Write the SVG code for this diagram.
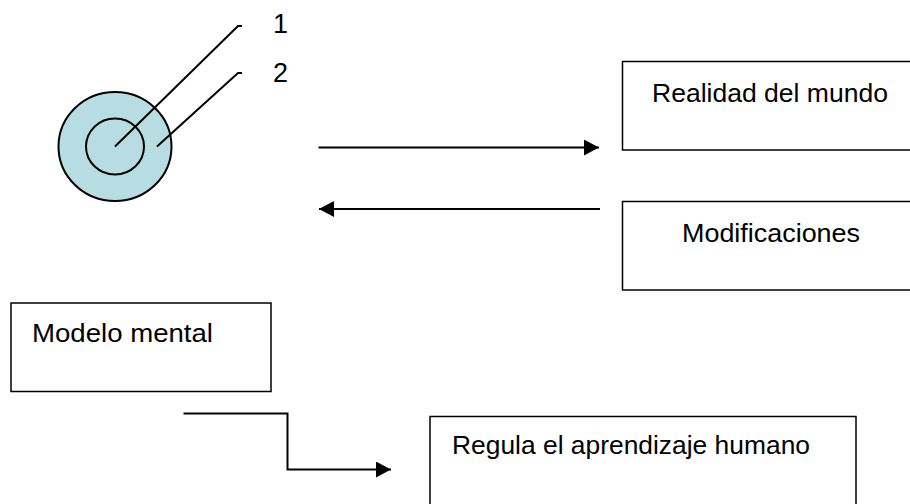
<svg xmlns="http://www.w3.org/2000/svg" width="910" height="504" viewBox="0 0 910 504">
  <style>
    .box { fill: #ffffff; stroke: #000000; stroke-width: 1.5; }
    .lbl { font-family: "Liberation Sans", Arial, sans-serif; font-size: 26px; fill: #000000; }
    .num { font-family: "Liberation Sans", Arial, sans-serif; font-size: 27px; fill: #000000; }
    .conn { fill: none; stroke: #000000; stroke-width: 2; }
    .ring { fill: #B7DDE2; stroke: #000000; stroke-width: 2; }
    .core { fill: none; stroke: #000000; stroke-width: 2; }
  </style>
  <defs>
    <marker id="arrow" viewBox="0 0 15 16" refX="15" refY="8" markerWidth="15" markerHeight="16" markerUnits="userSpaceOnUse" orient="auto">
      <path d="M0,0 L15,8 L0,16 z" fill="#000000"/>
    </marker>
  </defs>

  <g id="node-circle">
    <ellipse class="ring" cx="115" cy="146.5" rx="56.5" ry="54.5"/>
    <ellipse class="core" cx="115" cy="146.5" rx="29" ry="28"/>
  </g>

  <g id="node-label-1">
    <text class="num" x="273" y="33">1</text>
  </g>
  <g id="node-label-2">
    <text class="num" x="273" y="82">2</text>
  </g>

  <g id="node-realidad">
    <rect class="box" x="622.5" y="61.5" width="300" height="88.5"/>
    <text class="lbl" x="652" y="101.5" textLength="236" lengthAdjust="spacingAndGlyphs">Realidad del mundo</text>
  </g>

  <g id="node-modificaciones">
    <rect class="box" x="622.5" y="201.5" width="300" height="88.5"/>
    <text class="lbl" x="682" y="241.5" textLength="178" lengthAdjust="spacingAndGlyphs">Modificaciones</text>
  </g>

  <g id="node-modelo">
    <rect class="box" x="11" y="303" width="260" height="88.5"/>
    <text class="lbl" x="32" y="341.5" textLength="181" lengthAdjust="spacingAndGlyphs">Modelo mental</text>
  </g>

  <g id="node-regula">
    <rect class="box" x="430" y="416.5" width="426" height="100"/>
    <text class="lbl" x="452" y="454" textLength="358" lengthAdjust="spacingAndGlyphs">Regula el aprendizaje humano</text>
  </g>

  <g id="connectors">
    <polyline class="conn" points="115,146.5 238,26 242,26"/>
    <polyline class="conn" points="157,146.5 238,73 242,73"/>
    <line class="conn" x1="318.5" y1="147.5" x2="599" y2="147.5" marker-end="url(#arrow)"/>
    <line class="conn" x1="600" y1="209" x2="319" y2="209" marker-end="url(#arrow)"/>
    <polyline class="conn" points="183.5,413.5 287.5,413.5 287.5,469.5 391,469.5" marker-end="url(#arrow)"/>
  </g>
</svg>
